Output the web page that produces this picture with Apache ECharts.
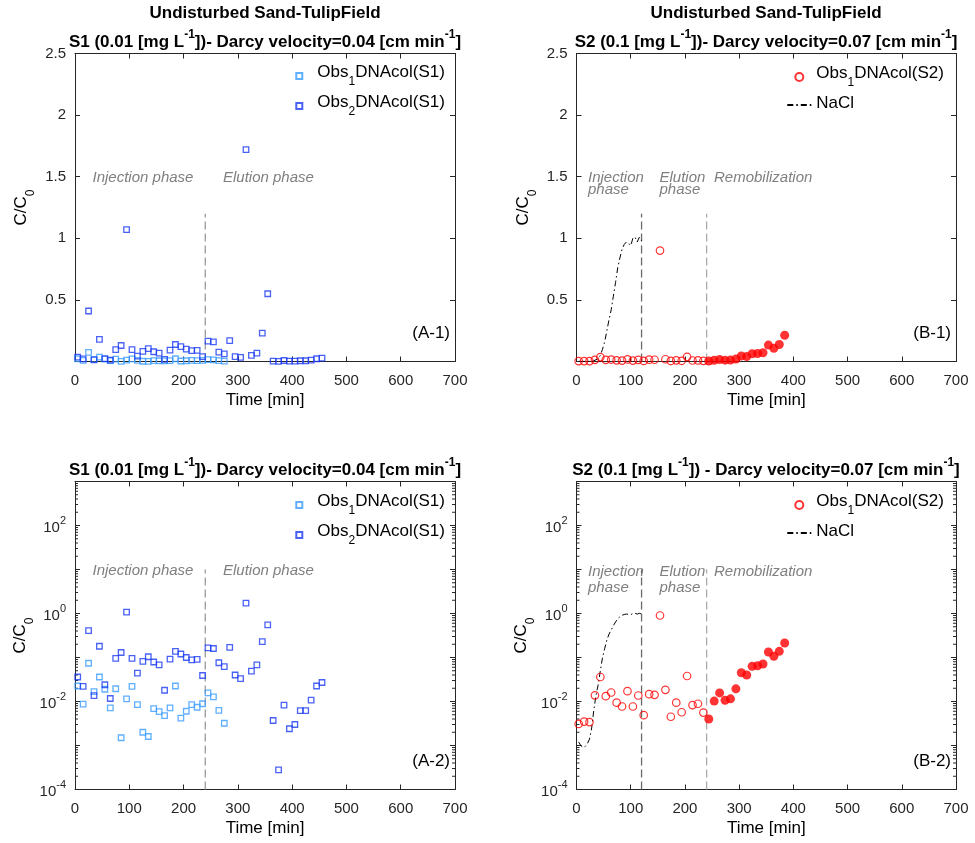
<!DOCTYPE html>
<html><head><meta charset="utf-8">
<script src="https://cdn.jsdelivr.net/npm/echarts@6/dist/echarts.min.js"></script>
<style>html,body{margin:0;padding:0;background:#fff}#c{width:975px;height:843px}</style>
</head><body><div id="c"></div>
<script>
const FONT = "'Liberation Sans', Arial, Helvetica, sans-serif";

// ---------- DATA ----------
// S1 column, observation 1 (C/C0)
const s1Time1 = [5,15,25,35,45,55,65,75,85,95,105,115,125,135,145,155,165,175,185,195,205,215,225,235,245,255,265,275];
const s1Obs1  = [0.0225,0.0087,0.074,0.0168,0.036,0.019,0.0072,0.0195,0.0015,0.0115,0.022,0.0085,0.0020,0.0016,0.0069,0.0059,0.0048,0.0072,0.0225,0.0042,0.006,0.0085,0.0074,0.0089,0.0157,0.0127,0.0063,0.0032];
// S1 column, observation 2
const s1Time2 = [5,15,25,35,45,55,65,75,85,95,105,115,125,135,145,155,165,175,185,195,205,215,225,235,245,255,265,275,285,295,305,315,325,335,345,355,365,375,385,395,405,415,425,435,445,455];
const s1Obs2  = [0.036,0.022,0.41,0.0136,0.18,0.024,0.0117,0.096,0.13,1.07,0.096,0.044,0.082,0.104,0.079,0.068,0.018,0.092,0.138,0.12,0.1,0.088,0.091,0.039,0.166,0.16,0.076,0.062,0.17,0.04,0.033,1.72,0.049,0.068,0.23,0.55,0.0037,0.00028,0.0083,0.0024,0.0030,0.0062,0.0062,0.0107,0.0225,0.027];
// S2 column, observation 1 (injection + elution, open markers)
const s2Time = [4,14,24,34,44,54,64,74,84,94,104,114,124,134,144,154,164,174,184,194,204,214,224,234];
const s2Obs  = [0.0031,0.0035,0.0034,0.0138,0.036,0.0132,0.016,0.0094,0.0077,0.0172,0.0077,0.0137,0.0049,0.0147,0.0142,0.90,0.0184,0.0045,0.0094,0.0057,0.038,0.0083,0.0089,0.0056];
// S2 column, observation 1 (remobilization, filled markers)
const s2RemobTime = [244,254,264,274,284,294,304,314,324,334,344,354,364,374,384];
const s2Remob     = [0.0040,0.0102,0.0157,0.0107,0.0115,0.0194,0.045,0.040,0.063,0.065,0.071,0.133,0.107,0.138,0.213];
// NaCl tracer
const naclTime = [4,8,12,16,20,24,28,32,36,40,44,48,52,56,60,64,68,72,76,80,84,88,92,96,100,104,108,112,116,120];
const naclConc = [0.0012,0.0010,0.0009,0.00095,0.0011,0.0014,0.0025,0.0065,0.014,0.024,0.05,0.1,0.16,0.25,0.34,0.42,0.53,0.64,0.76,0.84,0.91,0.95,0.97,0.96,0.94,1.0,1.01,0.97,1.01,0.98];
// phase boundaries [min]
const phaseS1 = [240];
const phaseS2 = [120, 240];
// axes / ticks
const X_MIN = 0, X_MAX = 700, X_STEP = 100;
const LIN_MIN = 0, LIN_MAX = 2.5, LIN_STEP = 0.5;
const LOG_MIN = 1e-4, LOG_MAX = 1e3;
const LOG_LABEL_EXPS = [-4, -2, 0, 2];
const MINOR_MANT = [2,3,4,5,6,7,8,9];
const MINOR_DECADES = [-4,-3,-2,-1,0,1,2];

// ---------- STYLE ----------
const AX = '#262626';
const C_OBS1 = '#3A9BFF', C_OBS2 = '#1B3BF2', C_RED = '#FF0000';
const grids = [
  {left:75, top:53.5, width:380, height:308},
  {left:75, top:481.5, width:380, height:308},
  {left:576.5, top:53.5, width:379.5, height:308},
  {left:576.5, top:481.5, width:379.5, height:308}
];
const isLog = [false, true, false, true];

const supRich = {
  b:{fontSize:15, lineHeight:20, verticalAlign:'bottom', color:AX, fontFamily:FONT},
  e:{fontSize:11, lineHeight:11, verticalAlign:'top', color:AX, fontFamily:FONT}
};
const nameRich = {
  a:{fontSize:17, lineHeight:20, verticalAlign:'top', color:'#000', fontFamily:FONT},
  a0:{fontSize:17, lineHeight:20, verticalAlign:'top', color:'#000', fontFamily:FONT, padding:[0,0,0,10]},
  s:{fontSize:12, lineHeight:12, verticalAlign:'bottom', color:'#000', fontFamily:FONT},
  z:{fontSize:1, lineHeight:24, verticalAlign:'top', fontFamily:FONT}
};

const xAxes = [], yAxes = [];
grids.forEach((g, i) => {
  xAxes.push({type:'value', gridIndex:i, min:X_MIN, max:X_MAX, interval:X_STEP, position:'bottom',
    name:'Time [min]', nameLocation:'middle', nameGap:30,
    nameTextStyle:{fontSize:17, color:'#000', fontFamily:FONT},
    axisLine:{show:true, onZero:false, lineStyle:{color:AX, width:1}},
    axisTick:{show:true, inside:true, length:5, lineStyle:{color:AX}},
    axisLabel:{fontSize:15, color:AX, fontFamily:FONT, margin:12},
    splitLine:{show:false}});
});
grids.forEach((g, i) => {
  xAxes.push({type:'value', gridIndex:i, min:X_MIN, max:X_MAX, interval:X_STEP, position:'top',
    axisLine:{show:true, onZero:false, lineStyle:{color:AX, width:1}},
    axisTick:{show:true, inside:true, length:5, lineStyle:{color:AX}},
    axisLabel:{show:false}, splitLine:{show:false}});
});
function yAxis(i, right) {
  const base = {gridIndex:i, position: right ? 'right' : 'left',
    axisLine:{show:true, onZero:false, lineStyle:{color:AX, width:1}},
    axisTick:{show:true, inside:true, length:5, lineStyle:{color:AX}},
    splitLine:{show:false}};
  if (isLog[i]) {
    Object.assign(base, {type:'log', logBase:10, min:LOG_MIN, max:LOG_MAX, splitNumber:7});
  } else {
    Object.assign(base, {type:'value', min:LIN_MIN, max:LIN_MAX, interval:LIN_STEP});
  }
  if (right) {
    base.axisLabel = {show:false};
  } else {
    base.name = '{a|C/C}{s|0}{z| }';
    base.nameLocation = 'middle';
    base.nameGap = 38;
    base.nameRotate = 90;
    base.nameTextStyle = {rich:nameRich};
    if (isLog[i]) {
      base.axisLabel = {margin:9, rich:supRich, formatter: v => {
        const e = Math.round(Math.log10(v));
        return LOG_LABEL_EXPS.indexOf(e) >= 0 ? '{b|10}{e|' + e + '}' : '';
      }};
    } else {
      base.axisLabel = {margin:9, fontSize:15, color:AX, fontFamily:FONT,
        formatter: v => (v === 0 ? '' : String(v))};
    }
  }
  return base;
}
grids.forEach((g, i) => yAxes.push(yAxis(i, false)));
grids.forEach((g, i) => yAxes.push(yAxis(i, true)));

// ---------- SERIES ----------
const pairs = (ts, vs) => ts.map((t, k) => [t, vs[k]]);
function sq(name, ts, vs, color, gi) {
  return {type:'scatter', name, xAxisIndex:gi, yAxisIndex:gi, data:pairs(ts, vs),
    symbol:'rect', symbolSize:5.5, z:5,
    itemStyle:{color:'rgba(255,255,255,0)', borderColor:color, borderWidth:1.3}};
}
function openCirc(name, ts, vs, gi) {
  return {type:'scatter', name, xAxisIndex:gi, yAxisIndex:gi, data:pairs(ts, vs),
    symbol:'circle', symbolSize:7.5, z:5,
    itemStyle:{color:'rgba(255,255,255,0)', borderColor:C_RED, borderWidth:1.2}};
}
function fillCirc(ts, vs, gi) {
  return {type:'scatter', name:'remob', xAxisIndex:gi, yAxisIndex:gi, data:pairs(ts, vs),
    symbol:'circle', symbolSize:9, z:5, itemStyle:{color:C_RED}};
}
function vLine(t, gi, color) {
  const top = isLog[gi] ? 10 : 1.2;
  const bot = isLog[gi] ? LOG_MIN : 0;
  return {type:'line', xAxisIndex:gi, yAxisIndex:gi, data:[[t, bot], [t, top]], symbol:'none', silent:true,
    z:2, lineStyle:{color, width:1.3, type:[8,4]}};
}
function nacl(gi) {
  return {type:'line', name:'NaCl', xAxisIndex:gi, yAxisIndex:gi, data:pairs(naclTime, naclConc),
    symbol:'none', z:3, itemStyle:{color:'rgba(0,0,0,0)', borderWidth:0},
    lineStyle:{color:'#000', width:1, type:[6,3,1.5,3]}};
}
const minorVals = [];
MINOR_DECADES.forEach(d => MINOR_MANT.forEach(m => minorVals.push(m * Math.pow(10, d))));
function minorTicks(gi) {
  return {type:'custom', xAxisIndex:gi, yAxisIndex:gi, silent:true, clip:false, z:1,
    data: minorVals.map(v => [X_MIN, v]),
    renderItem: (params, api) => {
      const v = api.value(1);
      const p0 = api.coord([X_MIN, v]), p1 = api.coord([X_MAX, v]);
      return {type:'group', children:[
        {type:'line', shape:{x1:p0[0], y1:p0[1], x2:p0[0] + 3, y2:p0[1]}, style:{stroke:AX, lineWidth:1}},
        {type:'line', shape:{x1:p1[0], y1:p1[1], x2:p1[0] - 3, y2:p1[1]}, style:{stroke:AX, lineWidth:1}}
      ]};
    }};
}

const series = [];
[0, 1].forEach(gi => {
  phaseS1.forEach(t => series.push(vLine(t, gi, '#9a9a9a')));
  series.push(sq('Obs1DNAcol(S1)', s1Time1, s1Obs1, C_OBS1, gi));
  series.push(sq('Obs2DNAcol(S1)', s1Time2, s1Obs2, C_OBS2, gi));
});
[2, 3].forEach(gi => {
  series.push(vLine(phaseS2[0], gi, '#6a6a6a'));
  series.push(vLine(phaseS2[1], gi, '#aaaaaa'));
  series.push(nacl(gi));
  series.push(openCirc('Obs1DNAcol(S2)', s2Time, s2Obs, gi));
  series.push(fillCirc(s2RemobTime, s2Remob, gi));
});
series.push(minorTicks(1));
series.push(minorTicks(3));

// ---------- LEGENDS ----------
const legFmtA = name => '{a0|Obs}{s|' + name.charAt(3) + '}{a|' + name.slice(4) + '}{z| }';
const legFmtB = name => name === 'NaCl' ? '{a|NaCl}'
  : '{a|Obs}{s|' + name.charAt(3) + '}{a|' + name.slice(4) + '}{z| }';
function legend(names, left, top, iw, ih, fmt) {
  return {data:names, left, top, orient:'vertical', itemWidth:iw, itemHeight:ih, itemGap:6, padding:0,
    selectedMode:false, formatter:fmt, textStyle:{rich:nameRich}};
}

// ---------- TEXT ----------
const titleRich = {
  t:{fontSize:17, fontWeight:'bold', lineHeight:22, verticalAlign:'bottom', fill:'#000', fontFamily:FONT},
  u:{fontSize:12, fontWeight:'bold', lineHeight:12, verticalAlign:'top', fill:'#000', fontFamily:FONT}
};
function rtext(x, y, text, align) {
  return {type:'text', x, y, silent:true, style:{text, rich:titleRich, align:align || 'center', verticalAlign:'middle'}};
}
function ptext(x, y, text, opts) {
  return {type:'text', x, y, silent:true, style:Object.assign({text, fontFamily:FONT, fontSize:17, fill:'#000',
    align:'left', verticalAlign:'middle'}, opts || {})};
}
const gray = {fontSize:15, fontStyle:'italic', fill:'#7f7f7f'};
const graphic = [
  ptext(265, 13.5, 'Undisturbed Sand-TulipField', {fontWeight:'bold', align:'center'}),
  ptext(766, 13.5, 'Undisturbed Sand-TulipField', {fontWeight:'bold', align:'center'}),
  rtext(265, 40, '{t|S1 (0.01 [mg L}{u|-1}{t|])- Darcy velocity=0.04 [cm min}{u|-1}{t|]}'),
  rtext(766, 40, '{t|S2 (0.1 [mg L}{u|-1}{t|])- Darcy velocity=0.07 [cm min}{u|-1}{t|]}'),
  rtext(265, 468, '{t|S1 (0.01 [mg L}{u|-1}{t|])- Darcy velocity=0.04 [cm min}{u|-1}{t|]}'),
  rtext(766, 468, '{t|S2 (0.1 [mg L}{u|-1}{t|]) - Darcy velocity=0.07 [cm min}{u|-1}{t|]}'),
  ptext(92.5, 177.5, 'Injection phase', gray),
  ptext(223, 177.5, 'Elution phase', gray),
  ptext(92.5, 570.5, 'Injection phase', gray),
  ptext(223, 570.5, 'Elution phase', gray),
  ptext(588, 178, 'Injection', gray), ptext(588, 190, 'phase', gray),
  ptext(659.5, 178, 'Elution', gray), ptext(659.5, 190, 'phase', gray),
  ptext(714, 178, 'Remobilization', gray),
  ptext(588, 571.5, 'Injection', gray), ptext(588, 588, 'phase', gray),
  ptext(659.5, 571.5, 'Elution', gray), ptext(659.5, 588, 'phase', gray),
  ptext(714, 571.5, 'Remobilization', gray),
  ptext(450, 333, '(A-1)', {align:'right'}),
  ptext(450, 761, '(A-2)', {align:'right'}),
  ptext(951, 333, '(B-1)', {align:'right'}),
  ptext(951, 761, '(B-2)', {align:'right'})
];

const chart = echarts.init(document.getElementById('c'), null, {renderer:'canvas'});
chart.setOption({
  animation:false,
  backgroundColor:'#fff',
  textStyle:{fontFamily:FONT},
  grid: grids,
  xAxis: xAxes,
  yAxis: yAxes,
  legend: [
    legend(['Obs1DNAcol(S1)', 'Obs2DNAcol(S1)'], 295.3, 64, 6, 6, legFmtA),
    legend(['Obs1DNAcol(S1)', 'Obs2DNAcol(S1)'], 295.3, 493, 6, 6, legFmtA),
    legend(['Obs1DNAcol(S2)', 'NaCl'], 786.3, 65, 24, 8, legFmtB),
    legend(['Obs1DNAcol(S2)', 'NaCl'], 786.3, 493, 24, 8, legFmtB)
  ],
  series,
  graphic
});
</script>
</body></html>
